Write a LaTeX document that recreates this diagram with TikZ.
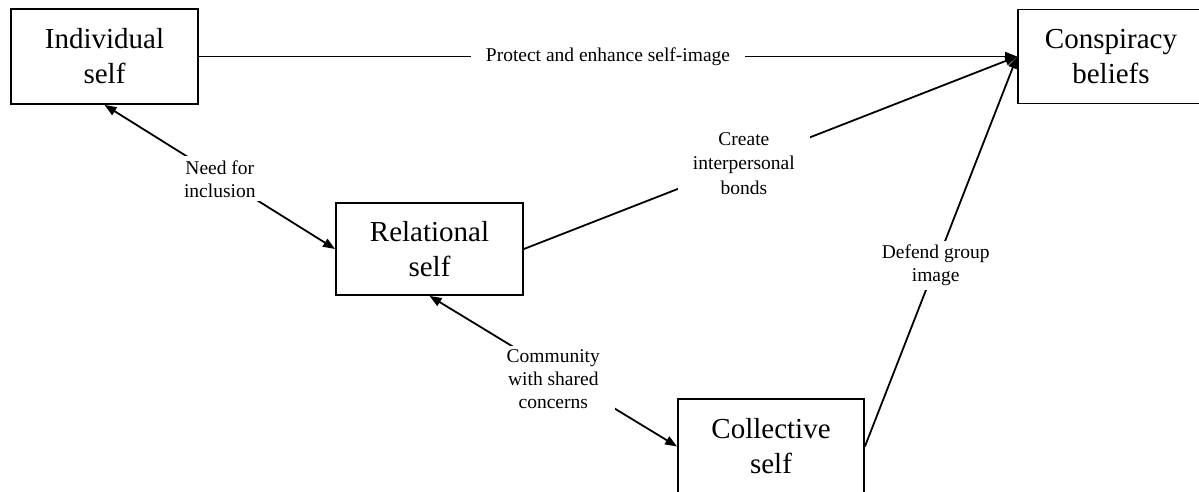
\documentclass[tikz,border=0pt]{standalone}
\usepackage{fontspec}
\setmainfont{Liberation Serif}
\usetikzlibrary{arrows.meta}
\begin{document}
\begin{tikzpicture}[x=1pt,y=-1pt,
  box/.style={draw, line width=1.8pt, align=center, inner sep=0pt,
    font=\fontsize{29}{35}\selectfont},
  conn/.style={line width=1.8pt, -{Triangle[length=12pt,width=9pt]}},
  dconn/.style={line width=1.8pt, {Triangle[length=12pt,width=9pt]}-{Triangle[length=12pt,width=9pt]}},
  lbl/.style={fill=white, align=center, inner xsep=15pt, inner ysep=4pt,
    font=\fontsize{19.5}{23}\selectfont}]
\useasboundingbox (0,0) rectangle (1199,491);

% the four selves and the outcome
\node[box, minimum width=187pt, minimum height=95pt] (ind) at (104.5,56.5) {Individual\\self};
\node[box, minimum width=186pt, minimum height=94pt] (con) at (1111,56.5) {Conspiracy\\beliefs};
\node[box, minimum width=187pt, minimum height=92pt] (rel) at (429.5,249) {Relational\\self};
\node[box, minimum width=186pt, minimum height=95pt] (col) at (771,446.5) {Collective\\self};

% paths to conspiracy beliefs
\draw[conn] (ind.east) -- node[lbl, pos=0.5] {Protect and enhance self-image} (con.west);
\draw[conn] (rel.east) -- node[lbl, pos=0.446, font=\fontsize{19.5}{24.5}\selectfont] {Create\\interpersonal\\bonds} (con.west);
\draw[conn] (col.east) -- node[lbl, pos=0.465] {Defend group\\image} (con.west);

% links between the selves
\draw[dconn] (ind.south) -- node[lbl, yshift=-2pt] {Need for\\inclusion} (rel.west);
\draw[dconn] (rel.south) -- node[lbl, yshift=-8pt] {Community\\with shared\\concerns} (col.west);
\end{tikzpicture}
\end{document}
